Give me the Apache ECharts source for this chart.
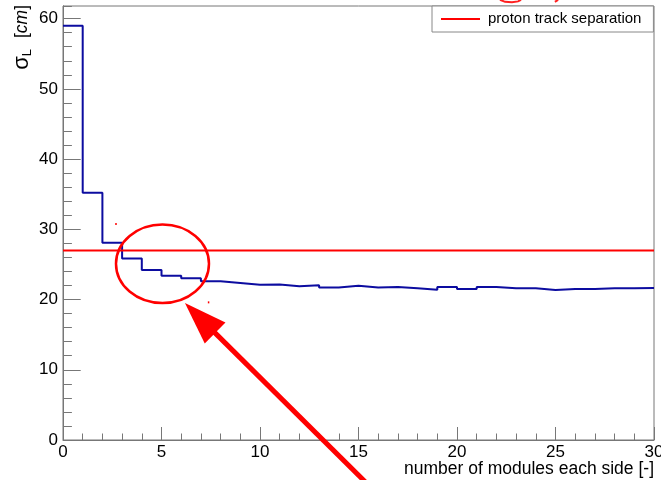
<!DOCTYPE html>
<html>
<head>
<meta charset="utf-8">
<script src="https://cdn.jsdelivr.net/npm/echarts@6/dist/echarts.min.js"></script>
<style>
  html, body { margin: 0; padding: 0; background: #ffffff; }
  #chart { width: 661px; height: 480px; }
</style>
</head>
<body>
<div id="chart"></div>
<script>
// Lower edges of the unit-width bins (number of modules per side)
const binEdges = [0, 1, 2, 3, 4, 5, 6, 7, 8, 9, 10, 11, 12, 13, 14, 15, 16, 17, 18, 19,
                  20, 21, 22, 23, 24, 25, 26, 27, 28, 29, 30];
// Longitudinal resolution sigma_L [cm] per bin
const sigmaL = [59.0, 35.2, 28.1, 25.85, 24.2, 23.4, 23.05, 22.6, 22.35, 22.1,
                22.15, 21.9, 22.05, 21.7, 21.95, 21.7, 21.8, 21.6, 21.4, 21.8,
                21.5, 21.8, 21.6, 21.6, 21.35, 21.5, 21.5, 21.6, 21.6, 21.65];
// Required resolution to separate the two proton tracks [cm]
const separationLevel = 27.0;
const separationName = 'proton track separation';
// Axis tick settings
const xTickStep = 5;
const yTickStep = 10;
const yMinorStep = 2;
const xRange = [0, 30];
const yRange = [0, 61.8];

// Annotation (in data units): ring around the crossing region and pointing arrow
const focusRing = { cx: 5.05, cy: 25.1, rx: 2.36, ry: 5.6 };
const pointer = { tip: [6.19, 19.5], tail: [15.5, -6.4] };
const specks = [[2.69, 30.77], [7.39, 19.6]];
const topStroke1 = [[22.18, 62.68], [22.44, 62.39], [22.79, 62.32], [23.10, 62.46], [23.25, 62.68]];
const topStroke2 = [[24.97, 62.39], [25.13, 62.68]];

const FONT = "'Liberation Sans', Arial, Helvetica, sans-serif";
const AXIS_GREY = '#777777';

// Histogram outline: each bin held flat until the next edge
const stepData = sigmaL.map((v, i) => [binEdges[i], v]);
stepData.push([binEdges[binEdges.length - 1], sigmaL[sigmaL.length - 1]]);

const chart = echarts.init(document.getElementById('chart'), null, { renderer: 'canvas' });

const yCommon = {
  type: 'value',
  position: 'left',
  min: yRange[0],
  max: yRange[1],
  axisLine: { show: true, lineStyle: { color: AXIS_GREY, width: 1 } },
  splitLine: { show: false }
};

chart.setOption({
  animation: false,
  backgroundColor: '#ffffff',
  grid: {
    left: 63, right: 7, top: 6, bottom: 40,
    containLabel: false, outerBoundsMode: 'none',
    show: true, borderColor: AXIS_GREY, borderWidth: 1, backgroundColor: 'transparent'
  },
  legend: {
    data: [separationName],
    left: 432, top: 6,
    orient: 'horizontal',
    backgroundColor: '#ffffff',
    borderColor: '#888888', borderWidth: 1, borderRadius: 0,
    padding: [5, 12, 5, 9],
    icon: 'rect', itemWidth: 39, itemHeight: 2,
    selectedMode: false,
    textStyle: { fontFamily: FONT, fontSize: 15, color: '#000000', lineHeight: 16, padding: [0, 0, 0, 3] }
  },
  xAxis: {
    type: 'value',
    min: xRange[0], max: xRange[1], interval: xTickStep,
    axisLine: { show: true, onZero: false, lineStyle: { color: AXIS_GREY, width: 1 } },
    axisTick: { show: true, inside: true, length: 13, lineStyle: { color: AXIS_GREY } },
    minorTick: { show: true, splitNumber: 5, length: 6.5, lineStyle: { color: AXIS_GREY } },
    splitLine: { show: false },
    axisLabel: { fontFamily: FONT, fontSize: 17, color: '#000000', margin: 4 }
  },
  yAxis: [
    Object.assign({}, yCommon, {
      interval: yTickStep,
      axisTick: { show: true, inside: true, length: 17.7, lineStyle: { color: AXIS_GREY } },
      axisLabel: {
        fontFamily: FONT, fontSize: 17, color: '#000000', margin: 5, showMaxLabel: false,
        formatter: v => (v % yTickStep === 0 ? String(v) : '')
      }
    }),
    Object.assign({}, yCommon, {
      interval: yMinorStep,
      axisTick: { show: true, inside: true, length: 8.9, lineStyle: { color: AXIS_GREY } },
      axisLabel: { show: false }
    })
  ],
  series: [
    {
      name: 'sigmaL',
      type: 'line',
      step: 'end',
      data: stepData,
      showSymbol: false,
      lineStyle: { color: '#0c0ca0', width: 2 },
      itemStyle: { color: '#0c0ca0' },
      z: 3
    },
    {
      name: separationName,
      type: 'line',
      data: [[xRange[0], separationLevel], [xRange[1], separationLevel]],
      showSymbol: false,
      lineStyle: { color: '#ff0000', width: 2 },
      itemStyle: { color: '#ff0000' },
      z: 4
    }
  ]
});

// Annotations placed through the axes' own coordinate conversion
const toPx = p => chart.convertToPixel({ xAxisIndex: 0, yAxisIndex: 0 }, p);

const c = toPx([focusRing.cx, focusRing.cy]);
const rxPx = toPx([focusRing.cx + focusRing.rx, focusRing.cy])[0] - c[0];
const ryPx = c[1] - toPx([focusRing.cx, focusRing.cy + focusRing.ry])[1];

const T = toPx(pointer.tip);
const E = toPx(pointer.tail);
const dx = T[0] - E[0], dy = T[1] - E[1];
const len = Math.hypot(dx, dy);
const ux = dx / len, uy = dy / len;
const headLen = 42.5, headHalf = 14.7;
const B = [T[0] - ux * headLen, T[1] - uy * headLen];
const nx = -uy, ny = ux;

const graphics = [
  {
    type: 'ellipse',
    shape: { cx: c[0], cy: c[1], rx: rxPx, ry: ryPx },
    style: { fill: 'none', stroke: '#ff0000', lineWidth: 2.5 },
    z: 10
  },
  {
    type: 'line',
    shape: { x1: E[0], y1: E[1], x2: B[0] + ux * 3, y2: B[1] + uy * 3 },
    style: { stroke: '#ff0000', lineWidth: 5 },
    z: 10
  },
  {
    type: 'polygon',
    shape: { points: [T, [B[0] + nx * headHalf, B[1] + ny * headHalf], [B[0] - nx * headHalf, B[1] - ny * headHalf]] },
    style: { fill: '#ff0000' },
    z: 10
  },
  {
    type: 'polyline',
    shape: { points: topStroke1.map(toPx) },
    style: { stroke: '#ff2020', lineWidth: 2, fill: 'none' },
    z: 10
  },
  {
    type: 'polyline',
    shape: { points: topStroke2.map(toPx) },
    style: { stroke: '#ff2020', lineWidth: 2, fill: 'none' },
    z: 10
  },
  // Axis titles
  {
    type: 'text',
    x: 654, y: 469,
    style: {
      text: 'number of modules each side [-]',
      fontFamily: FONT, fontSize: 17.5, fill: '#000000',
      align: 'right', verticalAlign: 'middle'
    },
    z: 10
  },
  {
    type: 'text',
    x: 22, y: 5,
    rotation: Math.PI / 2,
    style: {
      text: '{s|σ}{b|L}{g|}{n|[}{i|cm}{n|]}',
      align: 'right', verticalAlign: 'middle',
      rich: {
        s: { fontFamily: FONT, fontSize: 22, fill: '#000000', lineHeight: 24 },
        b: { fontFamily: FONT, fontSize: 13, fill: '#000000', verticalAlign: 'bottom', lineHeight: 24 },
        g: { width: 11, lineHeight: 24 },
        n: { fontFamily: FONT, fontSize: 17.5, fill: '#000000', lineHeight: 24 },
        i: { fontFamily: FONT, fontSize: 17.5, fontStyle: 'italic', fill: '#000000', lineHeight: 24 }
      }
    },
    z: 10
  }
];

specks.forEach(p => {
  const q = toPx(p);
  graphics.push({
    type: 'rect',
    shape: { x: q[0] - 0.75, y: q[1] - 1, width: 1.5, height: 2 },
    style: { fill: '#ff0000' },
    z: 10
  });
});

chart.setOption({ graphic: graphics });
</script>
</body>
</html>
